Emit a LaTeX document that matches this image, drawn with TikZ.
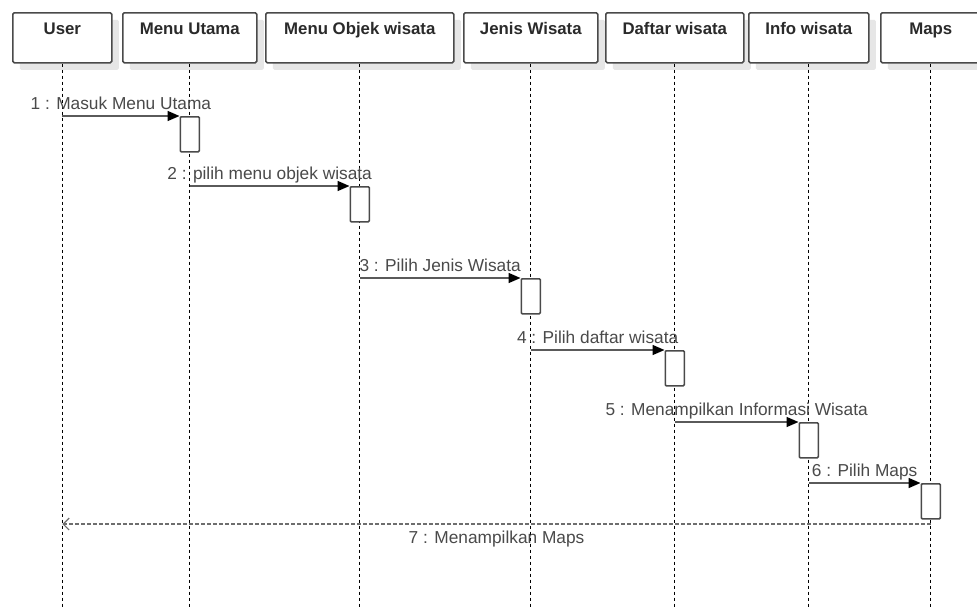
\documentclass[tikz,border=0pt]{standalone}
\usepackage{fontspec}
\setmainfont{Liberation Sans}
\usetikzlibrary{arrows.meta,shadows}
\definecolor{boxline}{HTML}{4A4A4A}
\definecolor{headtxt}{HTML}{2A2A2A}
\definecolor{msgtxt}{HTML}{4A4A4A}
\definecolor{msgline}{HTML}{5A5A5A}
\definecolor{retline}{HTML}{6E6E6E}
\definecolor{shadowc}{HTML}{E6E6E6}
\tikzset{
  head/.style={draw=boxline, line width=1.6pt, fill=white, rounded corners=1.5pt,
    anchor=north west, inner sep=0pt, minimum height=50pt,
    drop shadow={shadow xshift=7pt, shadow yshift=-7pt, fill=shadowc, opacity=1}},
  headtext/.style={font=\fontsize{16.8}{20}\selectfont\bfseries, text=headtxt, anchor=base, inner sep=0pt},
  lifeline/.style={draw=black, line width=1.3pt, dash pattern=on 3.5pt off 2.5pt},
  act/.style={draw=boxline, line width=1.6pt, fill=white, minimum width=19pt,
    minimum height=35pt, anchor=north, inner sep=0pt, rounded corners=1pt},
  msg/.style={draw=msgline, line width=1.6pt,
    -{Triangle[length=12pt,width=10pt,fill=black,color=black]}},
  ret/.style={draw=retline, line width=1.5pt, dash pattern=on 4pt off 2pt,
    -{Straight Barb[length=6pt,width=12pt,line width=1.2pt]}},
  msgtext/.style={font=\fontsize{17.3}{20}\selectfont, text=msgtxt, anchor=base, inner sep=0pt},
}
\begin{document}
\begin{tikzpicture}[x=1pt,y=-1pt]
\useasboundingbox (0,0) rectangle (977,608);
\fill[white] (0,0) rectangle (977,608);

% heads
\node[head, minimum width=99pt]  (user) at (12,12) {};
\node[head, minimum width=134pt] (mu)   at (122,12) {};
\node[head, minimum width=188pt] (mo)   at (265,12) {};
\node[head, minimum width=134pt] (jw)   at (463,12) {};
\node[head, minimum width=138pt] (dw)   at (605,12) {};
\node[head, minimum width=120pt] (iw)   at (748,12) {};
\node[head, minimum width=100pt] (maps) at (880,12) {};

\node[headtext] (userT) at (user.north |- 0,34) {User};
\node[headtext] (muT)   at (mu.north |- 0,34) {Menu Utama};
\node[headtext] (moT)   at (mo.north |- 0,34) {Menu Objek wisata};
\node[headtext] (jwT)   at (jw.north |- 0,34) {Jenis Wisata};
\node[headtext] (dwT)   at (dw.north |- 0,34) {Daftar wisata};
\node[headtext] (iwT)   at (iw.north |- 0,34) {Info wisata};
\node[headtext] (mapsT) at (maps.north |- 0,34) {Maps};

% lifeline ends
\coordinate (userE) at (user.south |- 0,608);
\coordinate (muE)   at (mu.south |- 0,608);
\coordinate (moE)   at (mo.south |- 0,608);
\coordinate (jwE)   at (jw.south |- 0,608);
\coordinate (dwE)   at (dw.south |- 0,608);
\coordinate (iwE)   at (iw.south |- 0,608);
\coordinate (mapsE) at (maps.south |- 0,608);

\draw[lifeline] (user.south) -- (userE);
\draw[lifeline] (mu.south) -- (muE);
\draw[lifeline] (mo.south) -- (moE);
\draw[lifeline] (jw.south) -- (jwE);
\draw[lifeline] (dw.south) -- (dwE);
\draw[lifeline] (iw.south) -- (iwE);
\draw[lifeline] (maps.south) -- (mapsE);

% activations
\node[act] (a1) at (mu.south |- 0,116) {};
\node[act] (a2) at (mo.south |- 0,186) {};
\node[act] (a3) at (jw.south |- 0,278) {};
\node[act] (a4) at (dw.south |- 0,350) {};
\node[act] (a5) at (iw.south |- 0,422) {};
\node[act] (a6) at (maps.south |- 0,483) {};

% message sources
\coordinate (s1) at (user.south |- a1.north);
\coordinate (s2) at (mu.south |- a2.north);
\coordinate (s3) at (mo.south |- a3.north);
\coordinate (s4) at (jw.south |- a4.north);
\coordinate (s5) at (dw.south |- a5.north);
\coordinate (s6) at (iw.south |- a6.north);

\draw[msg] (s1) -- node[msgtext, midway, yshift=7pt] {1 : Masuk Menu Utama} (a1.north west);
\draw[msg] (s2) -- node[msgtext, midway, yshift=7pt] {2 : pilih menu objek wisata} (a2.north west);
\draw[msg] (s3) -- node[msgtext, midway, yshift=7pt] {3 : Pilih Jenis Wisata} (a3.north west);
\draw[msg] (s4) -- node[msgtext, midway, yshift=7pt] {4 : Pilih daftar wisata} (a4.north west);
\draw[msg] (s5) -- node[msgtext, midway, yshift=7pt] {5 : Menampilkan Informasi Wisata} (a5.north west);
\draw[msg] (s6) -- node[msgtext, midway, yshift=7pt] {6 : Pilih Maps} (a6.north west);

% return
\coordinate (r7s) at (maps.south |- 0,524);
\coordinate (r7e) at (user.south |- 0,524);
\draw[ret] (r7s) -- node[msgtext, midway, yshift=-19.5pt] {7 : Menampilkan Maps} (r7e);
\end{tikzpicture}
\end{document}
